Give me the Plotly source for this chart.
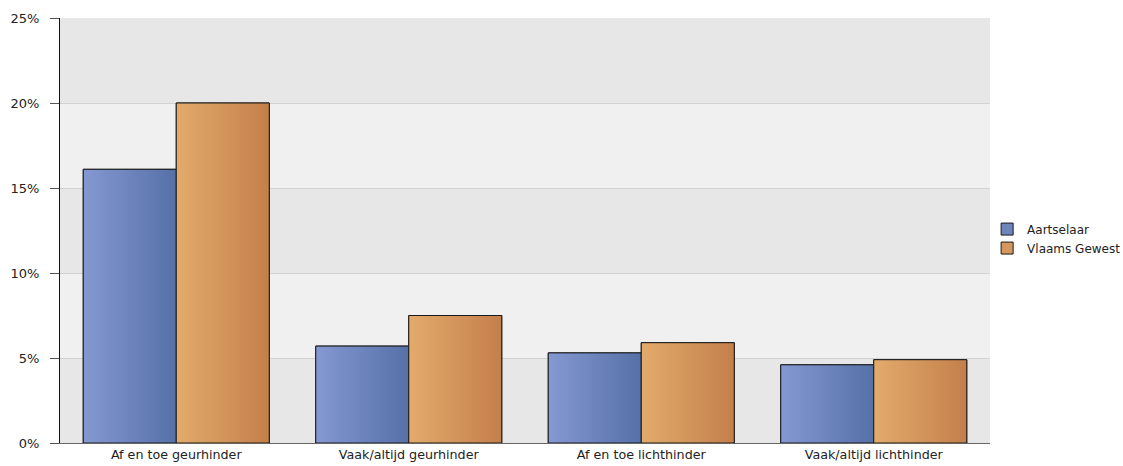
import plotly.graph_objects as go

categories = ["Af en toe geurhinder", "Vaak/altijd geurhinder",
              "Af en toe lichthinder", "Vaak/altijd lichthinder"]
aartselaar = [16.1, 5.7, 5.3, 4.6]
vlaams_gewest = [20.0, 7.5, 5.9, 4.9]
series_names = ["Aartselaar", "Vlaams Gewest"]
y_tick_values = [0, 5, 10, 15, 20, 25]
y_tick_labels = ["0%", "5%", "10%", "15%", "20%", "25%"]

FONT = "DejaVu Sans"
BAR_W = 0.4
styles = [
    dict(solid="#6d84bd", grad=[[0, "#8598d1"], [1, "#5571a8"]], offset=-BAR_W),
    dict(solid="#d5975e", grad=[[0, "#e2ab6b"], [1, "#c47f4b"]], offset=0.0),
]

pos = list(range(len(categories)))
fig = go.Figure()

for name, vals, st in zip(series_names, [aartselaar, vlaams_gewest], styles):
    fig.add_trace(go.Bar(
        x=pos, y=vals, name=name, width=BAR_W, offset=st["offset"],
        marker=dict(color=st["solid"], line=dict(color="#1a1a1a", width=1)),
        hoverinfo="skip",
    ))
    for i, v in zip(pos, vals):
        x0 = i + st["offset"]
        x1 = x0 + BAR_W
        fig.add_trace(go.Scatter(
            x=[x0, x1, x1, x0, x0], y=[0, 0, v, v, 0],
            mode="lines", fill="toself",
            fillgradient=dict(type="horizontal", colorscale=st["grad"]),
            line=dict(color="#1a1a1a", width=1),
            showlegend=False, hoverinfo="skip",
        ))

# alternating background bands
shapes = []
for k in range(len(y_tick_values) - 1):
    if k % 2 == 0:
        shapes.append(dict(type="rect", xref="paper", yref="y", x0=0, x1=1,
                           y0=y_tick_values[k], y1=y_tick_values[k + 1],
                           fillcolor="#e7e7e7", line=dict(width=0), layer="below"))

fig.update_layout(
    width=1123, height=466,
    margin=dict(l=60, r=133, t=18, b=23, autoexpand=False),
    paper_bgcolor="white", plot_bgcolor="#f0f0f0",
    barmode="overlay",
    shapes=shapes,
    font=dict(family=FONT, size=13, color="#222"),
    showlegend=True,
    legend=dict(xref="container", x=0.879, xanchor="left",
                y=0.481, yanchor="middle",
                font=dict(family=FONT, size=12, color="#222"),
                bgcolor="rgba(0,0,0,0)", tracegroupgap=0, itemwidth=30),
)
fig.update_xaxes(
    range=[-0.5, len(categories) - 0.5],
    tickvals=pos, ticktext=categories,
    showline=True, linecolor="#666", linewidth=1,
    showgrid=False, zeroline=False, ticks="", automargin=False,
    tickfont=dict(family=FONT, size=12.7, color="#222"),
)
fig.update_yaxes(
    range=[0, 25], tickvals=y_tick_values, ticktext=y_tick_labels,
    showline=True, linecolor="#111", linewidth=1,
    ticks="outside", ticklen=9, tickcolor="#555", ticklabelstandoff=8,
    showgrid=True, gridcolor="#d2d2d2", gridwidth=1, zeroline=False,
    automargin=False,
    tickfont=dict(family=FONT, size=13, color="#222"),
)

fig.write_html("out.html", config={"displayModeBar": False},
               post_script="document.body.style.margin='0';document.body.style.padding='0';")
